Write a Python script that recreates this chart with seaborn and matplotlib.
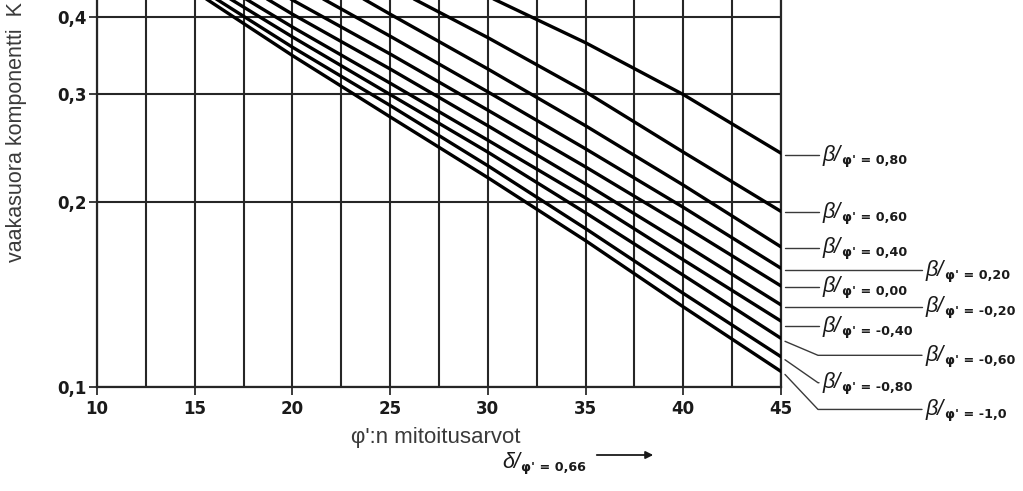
import matplotlib
matplotlib.use("Agg")
import matplotlib.pyplot as plt
from matplotlib import font_manager
from matplotlib.ticker import FixedLocator, NullLocator, FixedFormatter
from matplotlib.lines import Line2D
import numpy as np
import pandas as pd
import seaborn as sns

# K_ah curves for delta/phi' = 0.66
phi = [15, 20, 25, 30, 35, 40, 45]
nan = np.nan
k_p080 = [nan, 0.58, 0.50, 0.432, 0.363, 0.299, 0.240]
k_p060 = [nan, 0.53, 0.448, 0.370, 0.302, 0.241, 0.193]
k_p040 = [nan, 0.498, 0.404, 0.329, 0.266, 0.213, 0.169]
k_p020 = [0.566, 0.456, 0.372, 0.302, 0.244, 0.196, 0.156]
k_000 = [0.528, 0.426, 0.348, 0.282, 0.228, 0.183, 0.146]
k_m020 = [0.503, 0.404, 0.329, 0.266, 0.214, 0.171, 0.136]
k_m040 = [0.480, 0.385, 0.312, 0.252, 0.203, 0.161, 0.128]
k_m060 = [0.464, 0.371, 0.299, 0.241, 0.192, 0.152, 0.120]
k_m080 = [0.450, 0.357, 0.287, 0.229, 0.181, 0.142, 0.112]
k_m100 = [0.440, 0.346, 0.275, 0.219, 0.173, 0.135, 0.106]

ratios = ["0,80", "0,60", "0,40", "0,20", "0,00", "-0,20", "-0,40", "-0,60", "-0,80", "-1,0"]
curves = [k_p080, k_p060, k_p040, k_p020, k_000, k_m020, k_m040, k_m060, k_m080, k_m100]

x_ticks = [10, 15, 20, 25, 30, 35, 40, 45]
x_minor = [12.5, 17.5, 22.5, 27.5, 32.5, 37.5, 42.5]
y_ticks = [0.1, 0.2, 0.3, 0.4]
y_labels = ["0,1", "0,2", "0,3", "0,4"]

# label placement: far column or near column, drop in px below line end
label_far = [False, False, False, True, False, True, False, True, False, True]
label_drop = [-2, -1, -1, -2, -1, -2, -5, -17, -26, -38]

rows = []
for r, ks in zip(ratios, curves):
    for p, k in zip(phi, ks):
        rows.append({"phi": p, "K": k, "ratio": r})
df = pd.DataFrame(rows).dropna()

sns.set_theme(style="white")
plt.rcParams["font.family"] = ["Liberation Sans", "DejaVu Sans"]
names = {f.name for f in font_manager.fontManager.ttflist}
narrow = "Liberation Sans Narrow" if "Liberation Sans Narrow" in names else "DejaVu Sans"
ink = "#1a1a1a"

fig = plt.figure(figsize=(10.23, 4.91), dpi=100)
ax = fig.add_axes([97 / 1023, 104 / 491, 684 / 1023, 387 / 491])

sns.lineplot(data=df, x="phi", y="K", hue="ratio", palette=["black"] * len(ratios),
             hue_order=ratios, legend=False, linewidth=2.4, ax=ax, zorder=3)

ax.set_yscale("log")
ax.set_xlim(10, 45)
ax.set_ylim(0.1, 0.426)
ax.xaxis.set_major_locator(FixedLocator(x_ticks))
ax.xaxis.set_minor_locator(FixedLocator(x_minor))
ax.yaxis.set_major_locator(FixedLocator(y_ticks))
ax.yaxis.set_major_formatter(FixedFormatter(y_labels))
ax.yaxis.set_minor_locator(NullLocator())
ax.set_xticklabels([str(t) for t in x_ticks])

grid_kw = dict(color="#262626", linewidth=1.5)
ax.grid(axis="x", which="both", **grid_kw)
ax.grid(axis="y", which="major", **grid_kw)
for s in ["left", "bottom", "right"]:
    ax.spines[s].set_color("#262626")
    ax.spines[s].set_linewidth(1.6)
ax.spines["top"].set_visible(False)

ax.tick_params(axis="x", which="major", direction="out", length=5.5, width=1.2,
               pad=4, labelsize=12, colors=ink, bottom=True)
ax.tick_params(axis="x", which="minor", length=0)
ax.tick_params(axis="y", which="major", direction="out", length=5.5, width=1.2,
               pad=2, labelsize=12, colors=ink, left=True)
for lab in ax.get_xticklabels() + ax.get_yticklabels():
    lab.set_fontfamily(narrow)
    lab.set_fontweight("bold")
ax.set_xlabel("")
ax.set_ylabel("")

fig.text(436 / 1023, 1 - 437 / 491, "φ':n mitoitusarvot", ha="center", va="center",
         fontsize=16, color="#3a3a3a")
fig.text(17 / 1023, 1 - 262 / 491, "vaakasuora komponentti  K", rotation=90,
         ha="center", va="bottom", fontsize=15.5, color="#3a3a3a")

fig.canvas.draw()
renderer = fig.canvas.get_renderer()


def ratio_label(x, y, head, value):
    # big italic symbol with slash, then small "phi' = value" lowered
    t1 = fig.text(x, y, head + "/", transform=None, ha="left", va="center",
                  fontsize=15.5, style="italic", color=ink)
    bb = t1.get_window_extent(renderer)
    fig.text(bb.x1 + 1, y - 5, "φ' = " + value, transform=None, ha="left", va="center",
             fontsize=9.2, fontweight="bold", fontfamily=narrow, color=ink)


# delta/phi' note and arrow
ratio_label(502, 491 - 462, "δ", "0,66")
ax.annotate("", xy=(656, 491 - 455), xytext=(594, 491 - 455), xycoords="figure pixels",
            textcoords="figure pixels",
            arrowprops=dict(arrowstyle="-|>", lw=1.3, color=ink, mutation_scale=11))

# leader lines and curve labels at the right
for r, ks, far, drop in zip(ratios, curves, label_far, label_drop):
    xe, ye = ax.transData.transform((phi[-1], ks[-1]))
    yl = ye + drop
    x_lab = xe + (145 if far else 42)
    if drop < -10:
        xs = [xe + 4, xe + 37, x_lab - 4]
        ys = [ye - 3, yl, yl]
    else:
        xs = [xe + 4, x_lab - 4]
        ys = [yl, yl]
    fig.add_artist(Line2D(xs, ys, transform=None, color="#3a3a3a", linewidth=1.0))
    ratio_label(x_lab, yl, "β", r)

fig.savefig("out.png", dpi=100)
